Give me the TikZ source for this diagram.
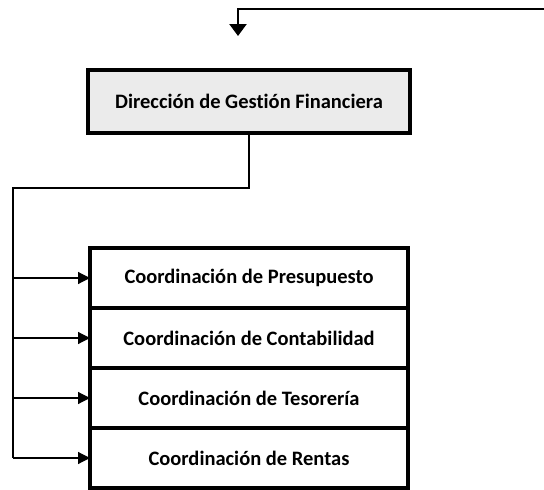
\documentclass[tikz,border=0pt]{standalone}
\usepackage{fontspec}
\setmainfont{Carlito}[Ligatures=NoCommon]
\usetikzlibrary{positioning,arrows.meta}
\begin{document}
\begin{tikzpicture}[x=1pt, y=-1pt,
  font=\fontsize{20.5}{24}\selectfont\bfseries,
  box/.style={draw=black, line width=3.6pt, align=center, minimum width=318pt, minimum height=60pt, inner sep=2pt, outer sep=0pt, fill=white},
  head/.style={box, fill=black!8, minimum width=322pt, minimum height=63pt},
  arr/.style={-{Triangle[length=12pt, width=12pt]}, line width=1.2pt},
  bigarr/.style={-{Triangle[length=12pt, width=17pt]}, line width=2.4pt},
  bus/.style={line width=1.2pt}
]
\useasboundingbox (0,0) rectangle (544,490);
\coordinate (src) at (544,9);
\coordinate (drop) at (238,36);
\node[head] (dgf) at (249,101.5) {Dirección de Gestión Financiera};
\node[box] (pres) at (249,278) {Coordinación de Presupuesto};
\node[box, below=0pt of pres] (cont) {Coordinación de Contabilidad};
\node[box, below=0pt of cont] (teso) {Coordinación de Tesorería};
\node[box, below=0pt of teso] (rent) {Coordinación de Rentas};
\coordinate (bus) at (13,188);

\draw[bigarr] (src) -| (drop);
\draw[bus] (dgf.south) |- (bus) -- (bus |- rent.west);
\foreach \n in {pres,cont,teso,rent}
  \draw[arr] (bus |- \n.west) -- (\n.west);
\end{tikzpicture}
\end{document}
